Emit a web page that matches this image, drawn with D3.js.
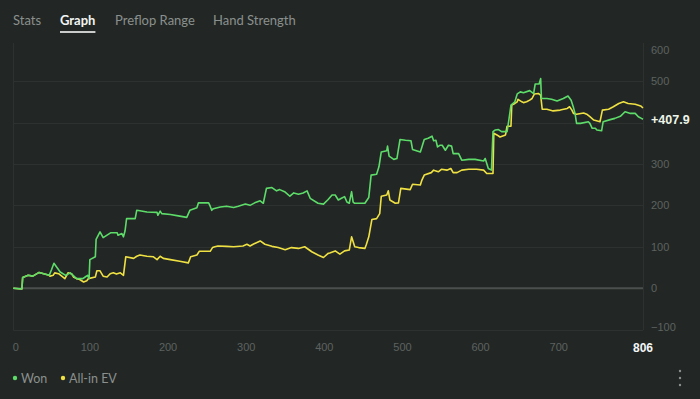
<!DOCTYPE html>
<html>
<head>
<meta charset="utf-8">
<script src="https://cdn.jsdelivr.net/npm/d3@7/dist/d3.min.js"></script>
<style>
  html, body { margin: 0; padding: 0; background: #222725; }
  svg { display: block; }
</style>
</head>
<body>
<figure id="graph" style="margin:0"></figure>
<script>
// tabs + legend
const tabs = ["Stats", "Graph", "Preflop Range", "Hand Strength"];
const activeTab = "Graph";
const seriesNames = ["Won", "All-in EV"];

// axis ticks
const yTicks = [600, 500, 400, 300, 200, 100, 0, -100];
const xTicks = [0, 100, 200, 300, 400, 500, 600, 700];
const totalHands = 806;
const lastWon = 407.9;

// Won: [hand, amount]
const wonData = [
  [0, 0], [11, -2], [12, 26], [19, 31], [25, 29], [33, 38], [46, 31], [49, 45], [52, 60],
  [60, 39], [67, 31], [73, 37], [81, 23], [89, 23], [92, 27], [95, 31], [97, 23], [98, 69],
  [105, 76], [106, 118], [111, 136], [115, 122], [125, 134], [133, 134], [134, 128], [139, 132],
  [141, 124], [143, 138], [145, 168], [156, 168], [158, 188], [162, 187], [171, 184], [184, 183],
  [185, 176], [188, 186], [190, 180], [201, 178], [213, 174], [222, 171], [226, 188], [235, 194],
  [237, 206], [250, 206], [252, 198], [254, 188], [256, 192], [265, 196], [273, 198], [282, 195],
  [288, 198], [297, 203], [303, 200], [309, 206], [316, 211], [320, 205], [324, 241], [331, 243],
  [337, 235], [341, 238], [348, 232], [354, 222], [359, 230], [365, 227], [371, 230], [376, 235],
  [380, 217], [390, 205], [397, 203], [403, 214], [408, 225], [412, 225], [416, 213], [420, 217],
  [424, 221], [427, 208], [430, 205], [433, 233], [435, 208], [437, 205], [450, 205], [455, 219],
  [458, 273], [465, 275], [468, 293], [471, 329], [478, 332], [479, 343], [481, 319], [487, 311],
  [491, 313], [495, 359], [502, 357], [509, 356], [511, 335], [521, 329], [526, 359], [531, 362],
  [536, 367], [538, 356], [541, 357], [543, 341], [546, 345], [549, 345], [553, 333], [557, 345],
  [561, 343], [563, 325], [570, 325], [574, 309], [583, 311], [591, 311], [602, 307], [604, 313],
  [608, 289], [612, 285], [614, 378], [617, 382], [621, 383], [625, 378], [632, 378], [634, 402],
  [637, 442], [642, 450], [645, 469], [649, 474], [653, 472], [661, 477], [666, 470], [668, 493],
  [673, 493], [675, 506], [676, 458], [683, 458], [689, 456], [696, 452], [704, 458], [710, 464],
  [714, 454], [717, 436], [719, 422], [721, 398], [726, 398], [736, 402], [738, 398], [741, 386],
  [745, 386], [747, 382], [753, 380], [755, 402], [764, 407], [770, 410], [777, 415], [783, 426],
  [790, 422], [796, 422], [800, 414], [804, 410], [806, 407.9]
];

// All-in EV: [hand, amount]
const evData = [
  [0, 0], [11, -2], [12, 26], [19, 31], [25, 29], [33, 38], [46, 31], [47, 29], [51, 31],
  [53, 37], [58, 35], [62, 29], [66, 23], [70, 37], [75, 34], [77, 27], [81, 23], [85, 21],
  [90, 15], [94, 18], [96, 23], [105, 27], [107, 42], [111, 42], [115, 29], [120, 27], [124, 35],
  [128, 37], [132, 34], [137, 37], [141, 31], [144, 76], [154, 72], [158, 77], [162, 80], [171, 77],
  [179, 76], [184, 69], [188, 77], [192, 72], [201, 69], [213, 65], [224, 61], [227, 76], [235, 80],
  [238, 89], [252, 89], [255, 98], [258, 100], [262, 102], [273, 101], [282, 100], [294, 102],
  [299, 106], [303, 102], [307, 106], [316, 114], [322, 106], [331, 101], [339, 98], [348, 93],
  [356, 98], [365, 96], [373, 100], [382, 88], [390, 80], [397, 74], [403, 84], [405, 85], [412, 90],
  [418, 82], [424, 90], [430, 92], [433, 124], [437, 100], [442, 98], [450, 96], [452, 106],
  [455, 124], [459, 166], [465, 168], [469, 180], [471, 222], [478, 225], [480, 235], [482, 213],
  [489, 205], [493, 206], [496, 241], [508, 238], [511, 251], [521, 249], [523, 261], [526, 273],
  [535, 279], [538, 285], [544, 281], [548, 287], [555, 285], [560, 289], [563, 279], [568, 279],
  [574, 285], [583, 287], [593, 287], [602, 285], [606, 277], [608, 277], [614, 277], [615, 374],
  [619, 370], [623, 365], [630, 370], [632, 391], [637, 391], [638, 442], [642, 446], [645, 450],
  [646, 456], [651, 450], [653, 448], [657, 450], [661, 454], [664, 458], [667, 469], [672, 470],
  [675, 466], [677, 432], [683, 432], [691, 428], [700, 430], [709, 434], [712, 438], [715, 430],
  [717, 422], [721, 420], [730, 423], [734, 420], [738, 414], [743, 406], [751, 402], [754, 430],
  [762, 432], [768, 438], [775, 446], [781, 450], [787, 446], [796, 444], [803, 440], [806, 435]
];

const W = 700, H = 399;
const plot = { left: 13.3, right: 643, top: 43, bottom: 330 };
const wonColor = "#5edc6a";
const evColor = "#efe043";
const labelColor = "#5d6260";
const font = "'Liberation Sans', Arial, sans-serif";
const uiFont = "Lato, 'Noto Sans', sans-serif";

const svg = d3.select("#graph")
  .append("svg")
  .attr("width", W)
  .attr("height", H);

svg.append("rect").attr("width", W).attr("height", H).attr("fill", "#222725");

// tabs
const tabX = [13, 60, 115, 213];
tabs.forEach((t, i) => {
  const txt = svg.append("text")
    .attr("x", tabX[i])
    .attr("y", 24.5)
    .attr("font-family", uiFont)
    .attr("font-size", 13)
    .attr("fill", t === activeTab ? "#f2f4f3" : "#8b908e")
    .attr("font-weight", t === activeTab ? 700 : 400)
    .text(t);
  if (t === activeTab) {
    const w = txt.node().getComputedTextLength();
    svg.append("rect")
      .attr("x", tabX[i]).attr("y", 31)
      .attr("width", w).attr("height", 2)
      .attr("fill", "#c9cccb");
  }
});

const x = d3.scaleLinear().domain([0, totalHands]).range([plot.left, plot.right]);
const y = d3.scaleLinear().domain([-101, 592]).range([plot.bottom, plot.top]);

// frame and grid
const g = svg.append("g");
g.selectAll("line.grid")
  .data(yTicks.filter(d => d !== 0 && y(d) >= plot.top))
  .enter().append("line")
  .attr("x1", plot.left).attr("x2", plot.right)
  .attr("y1", d => Math.round(y(d)) + 0.5).attr("y2", d => Math.round(y(d)) + 0.5)
  .attr("stroke", "#2d3230");
[plot.left, plot.right].forEach(px => {
  g.append("line")
    .attr("x1", Math.round(px) + 0.5).attr("x2", Math.round(px) + 0.5)
    .attr("y1", plot.top).attr("y2", plot.bottom)
    .attr("stroke", "#2d3230");
});
g.append("line")
  .attr("x1", plot.left).attr("x2", plot.right)
  .attr("y1", plot.bottom + 0.5).attr("y2", plot.bottom + 0.5)
  .attr("stroke", "#2d3230");
// zero line
g.append("line")
  .attr("x1", plot.left).attr("x2", plot.right)
  .attr("y1", y(0)).attr("y2", y(0))
  .attr("stroke", "#4b504e").attr("stroke-width", 2);

// right axis (ticks hidden behind the last-value label are dropped)
const shownYTicks = yTicks.filter(d => Math.abs(y(d) - y(lastWon)) > 12);
const yAxis = svg.append("g")
  .attr("transform", "translate(" + plot.right + ",0)")
  .call(d3.axisRight(y).tickValues(shownYTicks).tickSize(0).tickPadding(8));
yAxis.select(".domain").remove();
yAxis.selectAll("text")
  .attr("font-family", font)
  .attr("font-size", 11)
  .attr("fill", labelColor)
  .attr("y", d => Math.min(Math.max(y(d), 50), 327) - y(d));

// bottom axis
const xAxis = svg.append("g")
  .attr("transform", "translate(0," + plot.bottom + ")")
  .call(d3.axisBottom(x).tickValues(xTicks).tickSize(0).tickPadding(13).tickFormat(d3.format("d")));
xAxis.select(".domain").remove();
xAxis.selectAll("text")
  .attr("font-family", font)
  .attr("font-size", 11)
  .attr("fill", labelColor)
  .attr("dx", d => d === 0 ? 2 : -2);

svg.append("text")
  .attr("x", x(totalHands))
  .attr("y", 352)
  .attr("text-anchor", "middle")
  .attr("font-family", font)
  .attr("font-size", 12)
  .attr("font-weight", "bold")
  .attr("fill", "#f4f6f5")
  .text(totalHands);

// lines
const line = d3.line()
  .x(d => x(d[0]))
  .y(d => y(d[1]));

svg.append("path")
  .datum(evData)
  .attr("d", line)
  .attr("fill", "none")
  .attr("stroke", evColor)
  .attr("stroke-width", 1.6)
  .attr("stroke-linejoin", "round");

svg.append("path")
  .datum(wonData)
  .attr("d", line)
  .attr("fill", "none")
  .attr("stroke", wonColor)
  .attr("stroke-width", 1.6)
  .attr("stroke-linejoin", "round");

// last value label
svg.append("text")
  .attr("x", plot.right + 8)
  .attr("y", y(lastWon))
  .attr("dy", "0.36em")
  .attr("font-family", font)
  .attr("font-size", 12.5)
  .attr("font-weight", "bold")
  .attr("fill", "#eef5e8")
  .text("+" + lastWon.toFixed(1));

// legend
const legendX = [15, 63];
const colors = [wonColor, evColor];
seriesNames.forEach((name, i) => {
  svg.append("circle")
    .attr("cx", legendX[i]).attr("cy", 378)
    .attr("r", 2.2)
    .attr("fill", colors[i]);
  svg.append("text")
    .attr("x", legendX[i] + 6)
    .attr("y", 382.5)
    .attr("font-family", uiFont)
    .attr("font-size", 12.5)
    .attr("fill", "#8b908e")
    .text(name);
});

// menu dots
[371, 378, 385].forEach(cy => {
  svg.append("circle").attr("cx", 680).attr("cy", cy).attr("r", 1.2).attr("fill", "#8b908e");
});
</script>
</body>
</html>
